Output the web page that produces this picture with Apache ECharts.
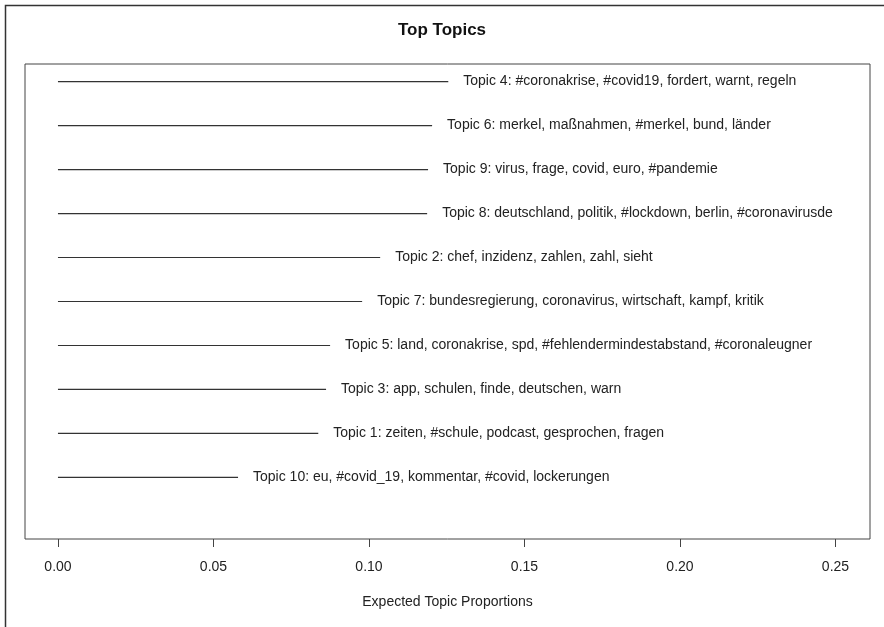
<!DOCTYPE html>
<html>
<head>
<meta charset="utf-8">
<style>
  html, body { margin: 0; padding: 0; background: #ffffff; }
  #chart { width: 884px; height: 627px; }
</style>
<script src="https://cdn.jsdelivr.net/npm/echarts@6/dist/echarts.min.js"></script>
</head>
<body>
<div id="chart"></div>
<script>
// Topics in plotting order (top to bottom)
const topicLabels = [
  'Topic 4: #coronakrise, #covid19, fordert, warnt, regeln',
  'Topic 6: merkel, maßnahmen, #merkel, bund, länder',
  'Topic 9: virus, frage, covid, euro, #pandemie',
  'Topic 8: deutschland, politik, #lockdown, berlin, #coronavirusde',
  'Topic 2: chef, inzidenz, zahlen, zahl, sieht',
  'Topic 7: bundesregierung, coronavirus, wirtschaft, kampf, kritik',
  'Topic 5: land, coronakrise, spd, #fehlendermindestabstand, #coronaleugner',
  'Topic 3: app, schulen, finde, deutschen, warn',
  'Topic 1: zeiten, #schule, podcast, gesprochen, fragen',
  'Topic 10: eu, #covid_19, kommentar, #covid, lockerungen'
];
// Expected topic proportions
const proportions = [0.1255, 0.1203, 0.1190, 0.1187, 0.1036, 0.0978, 0.0875, 0.0862, 0.0837, 0.0579];
// x-axis tick values
const xTicks = [0.00, 0.05, 0.10, 0.15, 0.20, 0.25];

const FONT = '"Liberation Sans", Arial, sans-serif';
const n = topicLabels.length;
const seriesData = proportions.map((v, i) => [v, n - i, topicLabels[i]]);

const chart = echarts.init(document.getElementById('chart'), null, { renderer: 'canvas' });
chart.setOption({
  backgroundColor: '#ffffff',
  animation: false,
  title: {
    text: 'Top Topics',
    left: 'center',
    top: 22,
    padding: 0,
    textStyle: { fontFamily: FONT, fontSize: 17, fontWeight: 'bold', color: '#111' }
  },
  graphic: [{
    type: 'rect',
    shape: { x: 5.5, y: 5.5, width: 1000, height: 1000 },
    style: { fill: null, stroke: '#333', lineWidth: 1.5 },
    silent: true
  }],
  grid: {
    left: 25, right: 14, top: 64, bottom: 88,
    show: true, borderColor: '#444', borderWidth: 1, backgroundColor: 'transparent'
  },
  xAxis: {
    type: 'value',
    min: -0.0106,
    max: 0.2611,
    position: 'bottom',
    splitLine: { show: false },
    axisLine: { show: false, onZero: false },
    axisTick: { show: true, customValues: xTicks, length: 8, inside: false, lineStyle: { color: '#444' } },
    axisLabel: {
      customValues: xTicks,
      formatter: v => v.toFixed(2),
      margin: 21,
      fontFamily: FONT, fontSize: 14, color: '#222'
    },
    name: 'Expected Topic Proportions',
    nameLocation: 'middle',
    nameGap: 56,
    nameTextStyle: { fontFamily: FONT, fontSize: 14, color: '#222', verticalAlign: 'top' }
  },
  yAxis: {
    type: 'value',
    min: -0.4,
    max: n + 0.4,
    show: false
  },
  series: [{
    type: 'custom',
    data: seriesData,
    encode: { x: 0, y: 1 },
    renderItem: (params, api) => {
      const v = api.value(0);
      const y = api.value(1);
      const p0 = api.coord([0, y]);
      const p1 = api.coord([v, y]);
      const label = seriesData[params.dataIndex][2];
      return {
        type: 'group',
        children: [
          {
            type: 'line',
            shape: { x1: p0[0], y1: p0[1], x2: p1[0], y2: p1[1] },
            style: { stroke: '#333', lineWidth: 1.2 }
          },
          {
            type: 'text',
            style: {
              x: p1[0] + 15, y: p1[1],
              text: label,
              fontFamily: FONT, fontSize: 14,
              fill: '#222',
              align: 'left', verticalAlign: 'middle'
            }
          }
        ]
      };
    }
  }]
});
</script>
</body>
</html>
